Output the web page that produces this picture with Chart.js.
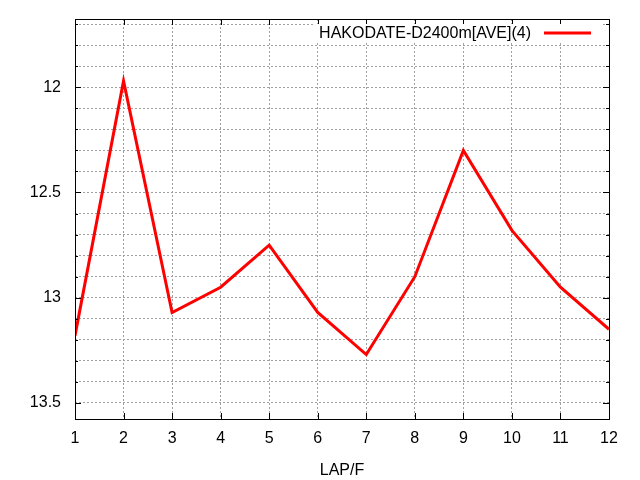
<!DOCTYPE html>
<html>
<head>
<meta charset="utf-8">
<script src="https://cdn.jsdelivr.net/npm/chart.js@4/dist/chart.umd.min.js"></script>
<style>
  html, body { margin: 0; padding: 0; background: #fff; }
  #wrap { width: 640px; height: 480px; }
</style>
</head>
<body>
<div id="wrap"><canvas id="c" width="640" height="480"></canvas></div>
<script>
// data
const laps = [1, 2, 3, 4, 5, 6, 7, 8, 9, 10, 11, 12];
const lapTimes = [13.18, 11.97, 13.07, 12.95, 12.75, 13.07, 13.27, 12.90, 12.30, 12.68, 12.95, 13.15];
const seriesLabel = 'HAKODATE-D2400m[AVE](4)';
const xTitle = 'LAP/F';

// y grid every 0.1, labels only on the 0.5 steps
const yTicks = [11.7, 11.8, 11.9, 12, 12.1, 12.2, 12.3, 12.4, 12.5, 12.6, 12.7, 12.8, 12.9, 13, 13.1, 13.2, 13.3, 13.4, 13.5];
const yLabels = [12, 12.5, 13, 13.5];
const yMin = 11.676, yMax = 13.576;

const FONT = 'Liberation Sans, Arial, sans-serif';

function isLabelled(v) {
  return yLabels.some(l => Math.abs(l - v) < 1e-6);
}

// frame, inner tick marks and the key, gnuplot style
const framePlugin = {
  id: 'frame',
  afterDraw(chart) {
    const ctx = chart.ctx;
    const a = chart.chartArea;
    const xs = chart.scales.x, ys = chart.scales.y;
    ctx.save();
    ctx.strokeStyle = '#000';
    ctx.lineWidth = 1;
    ctx.beginPath();
    yTicks.forEach(v => {
      const y = Math.round(ys.getPixelForValue(v)) + 0.5;
      const len = isLabelled(v) ? 6 : 3;
      ctx.moveTo(a.left, y); ctx.lineTo(a.left + len, y);
      ctx.moveTo(a.right, y); ctx.lineTo(a.right - len, y);
    });
    laps.forEach(v => {
      const x = Math.round(xs.getPixelForValue(v)) + 0.5;
      ctx.moveTo(x, a.bottom); ctx.lineTo(x, a.bottom - 6);
      ctx.moveTo(x, a.top); ctx.lineTo(x, a.top + 6);
    });
    ctx.stroke();
    ctx.strokeRect(Math.round(a.left) + 0.5, Math.round(a.top) + 0.5,
      Math.round(a.right - a.left), Math.round(a.bottom - a.top));

    // key
    ctx.font = '16px ' + FONT;
    const tw = ctx.measureText(seriesLabel).width;
    const ky = a.top + 14;
    const textRight = a.right - 78;
    ctx.fillStyle = '#fff';
    ctx.fillRect(textRight - tw - 5, ky - 9, tw + 5 + 78 - 8, 19);
    ctx.fillStyle = '#000';
    ctx.textAlign = 'right';
    ctx.textBaseline = 'middle';
    ctx.fillText(seriesLabel, textRight, ky + 1);
    ctx.strokeStyle = '#ff0000';
    ctx.lineWidth = 3;
    ctx.beginPath();
    ctx.moveTo(textRight + 13, ky);
    ctx.lineTo(textRight + 60, ky);
    ctx.stroke();
    ctx.restore();
  }
};

new Chart(document.getElementById('c'), {
  type: 'line',
  data: {
    datasets: [{
      label: seriesLabel,
      data: laps.map((x, i) => ({ x: x, y: lapTimes[i] })),
      borderColor: '#ff0000',
      borderWidth: 3,
      pointRadius: 0,
      tension: 0,
      fill: false
    }]
  },
  options: {
    responsive: false,
    animation: false,
    layout: { padding: { top: 19, right: 31, left: 0, bottom: 0 } },
    plugins: { legend: { display: false }, tooltip: { enabled: false } },
    scales: {
      x: {
        type: 'linear',
        min: 1, max: 12,
        afterBuildTicks: s => { s.ticks = laps.map(v => ({ value: v })); },
        afterFit: s => { s.height = 61; s.paddingLeft = 0; s.paddingRight = 0; },
        grid: { color: '#a0a0a0', lineWidth: 1, drawTicks: false },
        border: { display: false, dash: [2, 2] },
        ticks: { color: '#000', font: { family: FONT, size: 16 }, padding: 10, maxRotation: 0 },
        title: { display: true, text: xTitle, color: '#000', font: { family: FONT, size: 16 }, padding: { top: 3, bottom: 0 } }
      },
      y: {
        type: 'linear',
        reverse: true,
        min: yMin, max: yMax,
        afterBuildTicks: s => { s.ticks = yTicks.map(v => ({ value: v })); },
        afterFit: s => { s.width = 75; s.paddingTop = 0; s.paddingBottom = 0; },
        grid: { color: '#a0a0a0', lineWidth: 1, drawTicks: false },
        border: { display: false, dash: [2, 2] },
        ticks: {
          color: '#000',
          font: { family: FONT, size: 16 },
          padding: 14,
          autoSkip: false,
          callback: v => isLabelled(v) ? String(+v.toFixed(1)) : ''
        }
      }
    }
  },
  plugins: [framePlugin]
});
</script>
</body>
</html>
